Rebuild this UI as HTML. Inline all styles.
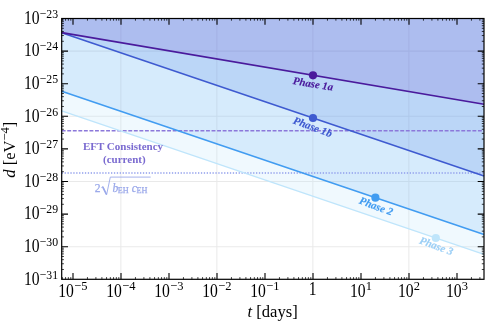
<!DOCTYPE html>
<html><head><meta charset="utf-8"><title>plot</title>
<style>html,body{margin:0;padding:0;background:#fff;overflow:hidden}svg{display:block;position:absolute;left:0;top:0;will-change:transform}</style></head>
<body>
<svg width="486" height="322" viewBox="0 0 486 322" font-family="Liberation Serif, serif">
<rect width="486" height="322" fill="#fff"/>
<path d="M120.85,18.5V279.3M216.85,18.5V279.3M312.85,18.5V279.3M408.85,18.5V279.3M61.7,246.70H484.0M61.7,181.50H484.0M61.7,116.30H484.0M61.7,51.10H484.0" stroke="#000" stroke-opacity="0.085" stroke-width="1.05" fill="none"/>
<polygon points="61.70,110.96 484.00,254.37 484.0,18.5 61.7,18.5" fill="#bfe5fb" fill-opacity="0.234"/>
<polygon points="61.70,91.17 484.00,234.58 484.0,18.5 61.7,18.5" fill="#419cf1" fill-opacity="0.15"/>
<polygon points="61.70,32.66 484.00,176.07 484.0,18.5 61.7,18.5" fill="#3468e3" fill-opacity="0.16"/>
<polygon points="61.70,32.63 484.00,104.33 484.0,18.5 61.7,18.5" fill="#5e2fc2" fill-opacity="0.15"/>
<path d="M61.7,130.7H484.0" stroke="#8c78da" stroke-width="1.55" stroke-dasharray="3.9 1.65" fill="none"/>
<path d="M61.7,173.0H484.0" stroke="#909eec" stroke-width="1.4" stroke-dasharray="1.3 1.6" fill="none"/>
<path d="M61.70,110.96L484.00,254.37" stroke="#bfe5fb" stroke-width="1.3" fill="none"/>
<path d="M61.70,91.17L484.00,234.58" stroke="#419cf1" stroke-width="1.55" fill="none"/>
<path d="M61.70,32.66L484.00,176.07" stroke="#3e5ad0" stroke-width="1.55" fill="none"/>
<path d="M61.70,32.63L484.00,104.33" stroke="#4a1a9c" stroke-width="1.55" fill="none"/>
<circle cx="435.8" cy="238.0" r="4.1" fill="#bfe5fb"/>
<circle cx="375.4" cy="197.7" r="4.1" fill="#419cf1"/>
<circle cx="313.0" cy="118.0" r="4.1" fill="#3e5ad0"/>
<circle cx="313.0" cy="75.3" r="4.1" fill="#4a1a9c"/>
<text transform="translate(312.5,87.4) rotate(9.5)" text-anchor="middle" font-size="10.8" font-weight="bold" font-style="italic" fill="#4a1a9c" stroke="#4a1a9c" stroke-width="0.15">Phase 1a</text>
<text transform="translate(311.5,130.3) rotate(20.5)" text-anchor="middle" font-size="10.8" font-weight="bold" font-style="italic" fill="#3e5ad0" stroke="#3e5ad0" stroke-width="0.15">Phase 1b</text>
<text transform="translate(374.9,209.5) rotate(20.5)" text-anchor="middle" font-size="10.8" font-weight="bold" font-style="italic" fill="#419cf1" stroke="#419cf1" stroke-width="0.15">Phase 2</text>
<text transform="translate(435.2,249.3) rotate(20)" text-anchor="middle" font-size="10.8" font-weight="bold" font-style="italic" fill="#9bcff6" stroke="#9bcff6" stroke-width="0.15">Phase 3</text>
<text x="123.0" y="149.8" text-anchor="middle" font-size="11" font-weight="bold" fill="#7a6ad0">EFT Consistency</text>
<text x="124.3" y="163.2" text-anchor="middle" font-size="11" font-weight="bold" fill="#7a6ad0">(current)</text>
<g fill="#9ba9ea" stroke="#9ba9ea" stroke-width="0.25"><text x="94.7" y="191.5" font-size="11.6">2</text><text x="112.4" y="191.5" font-size="11.6" font-style="italic">b</text><text x="117.7" y="192.9" font-size="8.2">EH</text><text x="131.7" y="191.5" font-size="11.6" font-style="italic">c</text><text x="136.5" y="192.9" font-size="8.2">EH</text><path d="M101.4,187.6L102.9,186.6L106.6,194.8L110.3,177.1H150.7" stroke-width="0.9" fill="none"/><path d="M102.7,186.8L106.4,194.4" stroke-width="1.6" fill="none"/></g>
<path d="M62.35,279.3v-2.2M62.35,18.5v2.2M65.56,279.3v-2.2M65.56,18.5v2.2M68.35,279.3v-2.2M68.35,18.5v2.2M70.80,279.3v-2.2M70.80,18.5v2.2M87.45,279.3v-2.2M87.45,18.5v2.2M95.90,279.3v-2.2M95.90,18.5v2.2M101.90,279.3v-2.2M101.90,18.5v2.2M106.55,279.3v-2.2M106.55,18.5v2.2M110.35,279.3v-2.2M110.35,18.5v2.2M113.56,279.3v-2.2M113.56,18.5v2.2M116.35,279.3v-2.2M116.35,18.5v2.2M118.80,279.3v-2.2M118.80,18.5v2.2M135.45,279.3v-2.2M135.45,18.5v2.2M143.90,279.3v-2.2M143.90,18.5v2.2M149.90,279.3v-2.2M149.90,18.5v2.2M154.55,279.3v-2.2M154.55,18.5v2.2M158.35,279.3v-2.2M158.35,18.5v2.2M161.56,279.3v-2.2M161.56,18.5v2.2M164.35,279.3v-2.2M164.35,18.5v2.2M166.80,279.3v-2.2M166.80,18.5v2.2M183.45,279.3v-2.2M183.45,18.5v2.2M191.90,279.3v-2.2M191.90,18.5v2.2M197.90,279.3v-2.2M197.90,18.5v2.2M202.55,279.3v-2.2M202.55,18.5v2.2M206.35,279.3v-2.2M206.35,18.5v2.2M209.56,279.3v-2.2M209.56,18.5v2.2M212.35,279.3v-2.2M212.35,18.5v2.2M214.80,279.3v-2.2M214.80,18.5v2.2M231.45,279.3v-2.2M231.45,18.5v2.2M239.90,279.3v-2.2M239.90,18.5v2.2M245.90,279.3v-2.2M245.90,18.5v2.2M250.55,279.3v-2.2M250.55,18.5v2.2M254.35,279.3v-2.2M254.35,18.5v2.2M257.56,279.3v-2.2M257.56,18.5v2.2M260.35,279.3v-2.2M260.35,18.5v2.2M262.80,279.3v-2.2M262.80,18.5v2.2M279.45,279.3v-2.2M279.45,18.5v2.2M287.90,279.3v-2.2M287.90,18.5v2.2M293.90,279.3v-2.2M293.90,18.5v2.2M298.55,279.3v-2.2M298.55,18.5v2.2M302.35,279.3v-2.2M302.35,18.5v2.2M305.56,279.3v-2.2M305.56,18.5v2.2M308.35,279.3v-2.2M308.35,18.5v2.2M310.80,279.3v-2.2M310.80,18.5v2.2M327.45,279.3v-2.2M327.45,18.5v2.2M335.90,279.3v-2.2M335.90,18.5v2.2M341.90,279.3v-2.2M341.90,18.5v2.2M346.55,279.3v-2.2M346.55,18.5v2.2M350.35,279.3v-2.2M350.35,18.5v2.2M353.56,279.3v-2.2M353.56,18.5v2.2M356.35,279.3v-2.2M356.35,18.5v2.2M358.80,279.3v-2.2M358.80,18.5v2.2M375.45,279.3v-2.2M375.45,18.5v2.2M383.90,279.3v-2.2M383.90,18.5v2.2M389.90,279.3v-2.2M389.90,18.5v2.2M394.55,279.3v-2.2M394.55,18.5v2.2M398.35,279.3v-2.2M398.35,18.5v2.2M401.56,279.3v-2.2M401.56,18.5v2.2M404.35,279.3v-2.2M404.35,18.5v2.2M406.80,279.3v-2.2M406.80,18.5v2.2M423.45,279.3v-2.2M423.45,18.5v2.2M431.90,279.3v-2.2M431.90,18.5v2.2M437.90,279.3v-2.2M437.90,18.5v2.2M442.55,279.3v-2.2M442.55,18.5v2.2M446.35,279.3v-2.2M446.35,18.5v2.2M449.56,279.3v-2.2M449.56,18.5v2.2M452.35,279.3v-2.2M452.35,18.5v2.2M454.80,279.3v-2.2M454.80,18.5v2.2M471.45,279.3v-2.2M471.45,18.5v2.2M479.90,279.3v-2.2M479.90,18.5v2.2M61.7,269.49h2.2M484.0,269.49h-2.2M61.7,263.75h2.2M484.0,263.75h-2.2M61.7,259.67h2.2M484.0,259.67h-2.2M61.7,256.51h2.2M484.0,256.51h-2.2M61.7,253.93h2.2M484.0,253.93h-2.2M61.7,251.75h2.2M484.0,251.75h-2.2M61.7,249.86h2.2M484.0,249.86h-2.2M61.7,248.19h2.2M484.0,248.19h-2.2M61.7,236.89h2.2M484.0,236.89h-2.2M61.7,231.15h2.2M484.0,231.15h-2.2M61.7,227.07h2.2M484.0,227.07h-2.2M61.7,223.91h2.2M484.0,223.91h-2.2M61.7,221.33h2.2M484.0,221.33h-2.2M61.7,219.15h2.2M484.0,219.15h-2.2M61.7,217.26h2.2M484.0,217.26h-2.2M61.7,215.59h2.2M484.0,215.59h-2.2M61.7,204.29h2.2M484.0,204.29h-2.2M61.7,198.55h2.2M484.0,198.55h-2.2M61.7,194.47h2.2M484.0,194.47h-2.2M61.7,191.31h2.2M484.0,191.31h-2.2M61.7,188.73h2.2M484.0,188.73h-2.2M61.7,186.55h2.2M484.0,186.55h-2.2M61.7,184.66h2.2M484.0,184.66h-2.2M61.7,182.99h2.2M484.0,182.99h-2.2M61.7,171.69h2.2M484.0,171.69h-2.2M61.7,165.95h2.2M484.0,165.95h-2.2M61.7,161.87h2.2M484.0,161.87h-2.2M61.7,158.71h2.2M484.0,158.71h-2.2M61.7,156.13h2.2M484.0,156.13h-2.2M61.7,153.95h2.2M484.0,153.95h-2.2M61.7,152.06h2.2M484.0,152.06h-2.2M61.7,150.39h2.2M484.0,150.39h-2.2M61.7,139.09h2.2M484.0,139.09h-2.2M61.7,133.35h2.2M484.0,133.35h-2.2M61.7,129.27h2.2M484.0,129.27h-2.2M61.7,126.11h2.2M484.0,126.11h-2.2M61.7,123.53h2.2M484.0,123.53h-2.2M61.7,121.35h2.2M484.0,121.35h-2.2M61.7,119.46h2.2M484.0,119.46h-2.2M61.7,117.79h2.2M484.0,117.79h-2.2M61.7,106.49h2.2M484.0,106.49h-2.2M61.7,100.75h2.2M484.0,100.75h-2.2M61.7,96.67h2.2M484.0,96.67h-2.2M61.7,93.51h2.2M484.0,93.51h-2.2M61.7,90.93h2.2M484.0,90.93h-2.2M61.7,88.75h2.2M484.0,88.75h-2.2M61.7,86.86h2.2M484.0,86.86h-2.2M61.7,85.19h2.2M484.0,85.19h-2.2M61.7,73.89h2.2M484.0,73.89h-2.2M61.7,68.15h2.2M484.0,68.15h-2.2M61.7,64.07h2.2M484.0,64.07h-2.2M61.7,60.91h2.2M484.0,60.91h-2.2M61.7,58.33h2.2M484.0,58.33h-2.2M61.7,56.15h2.2M484.0,56.15h-2.2M61.7,54.26h2.2M484.0,54.26h-2.2M61.7,52.59h2.2M484.0,52.59h-2.2M61.7,41.29h2.2M484.0,41.29h-2.2M61.7,35.55h2.2M484.0,35.55h-2.2M61.7,31.47h2.2M484.0,31.47h-2.2M61.7,28.31h2.2M484.0,28.31h-2.2M61.7,25.73h2.2M484.0,25.73h-2.2M61.7,23.55h2.2M484.0,23.55h-2.2M61.7,21.66h2.2M484.0,21.66h-2.2M61.7,19.99h2.2M484.0,19.99h-2.2" stroke="#000" stroke-width="0.75" fill="none"/>
<path d="M73.00,279.3v-6.3M73.00,18.5v6.3M121.00,279.3v-6.3M121.00,18.5v6.3M169.00,279.3v-6.3M169.00,18.5v6.3M217.00,279.3v-6.3M217.00,18.5v6.3M265.00,279.3v-6.3M265.00,18.5v6.3M313.00,279.3v-6.3M313.00,18.5v6.3M361.00,279.3v-6.3M361.00,18.5v6.3M409.00,279.3v-6.3M409.00,18.5v6.3M457.00,279.3v-6.3M457.00,18.5v6.3M61.7,246.70h6.3M484.0,246.70h-6.3M61.7,214.10h6.3M484.0,214.10h-6.3M61.7,181.50h6.3M484.0,181.50h-6.3M61.7,148.90h6.3M484.0,148.90h-6.3M61.7,116.30h6.3M484.0,116.30h-6.3M61.7,83.70h6.3M484.0,83.70h-6.3M61.7,51.10h6.3M484.0,51.10h-6.3" stroke="#000" stroke-width="1.1" fill="none"/>
<rect x="61.7" y="18.5" width="422.3" height="260.8" fill="none" stroke="#000" stroke-width="1.2"/>
<text transform="translate(23.90,23.70) scale(0.92,1.05)" font-size="17">10</text><text transform="translate(39.60,17.70) scale(1,1.06)" font-size="11.8">&#8722;23</text>
<text transform="translate(23.90,56.30) scale(0.92,1.05)" font-size="17">10</text><text transform="translate(39.60,50.30) scale(1,1.06)" font-size="11.8">&#8722;24</text>
<text transform="translate(23.90,88.90) scale(0.92,1.05)" font-size="17">10</text><text transform="translate(39.60,82.90) scale(1,1.06)" font-size="11.8">&#8722;25</text>
<text transform="translate(23.90,121.50) scale(0.92,1.05)" font-size="17">10</text><text transform="translate(39.60,115.50) scale(1,1.06)" font-size="11.8">&#8722;26</text>
<text transform="translate(23.90,154.10) scale(0.92,1.05)" font-size="17">10</text><text transform="translate(39.60,148.10) scale(1,1.06)" font-size="11.8">&#8722;27</text>
<text transform="translate(23.90,186.70) scale(0.92,1.05)" font-size="17">10</text><text transform="translate(39.60,180.70) scale(1,1.06)" font-size="11.8">&#8722;28</text>
<text transform="translate(23.90,219.30) scale(0.92,1.05)" font-size="17">10</text><text transform="translate(39.60,213.30) scale(1,1.06)" font-size="11.8">&#8722;29</text>
<text transform="translate(23.90,251.90) scale(0.92,1.05)" font-size="17">10</text><text transform="translate(39.60,245.90) scale(1,1.06)" font-size="11.8">&#8722;30</text>
<text transform="translate(23.90,284.50) scale(0.92,1.05)" font-size="17">10</text><text transform="translate(39.60,278.50) scale(1,1.06)" font-size="11.8">&#8722;31</text>
<text transform="translate(58.20,296.60) scale(0.92,1.05)" font-size="17">10</text><text transform="translate(74.30,290.20) scale(1,1.06)" font-size="12.5">&#8722;5</text>
<text transform="translate(106.20,296.60) scale(0.92,1.05)" font-size="17">10</text><text transform="translate(122.30,290.20) scale(1,1.06)" font-size="12.5">&#8722;4</text>
<text transform="translate(154.20,296.60) scale(0.92,1.05)" font-size="17">10</text><text transform="translate(170.30,290.20) scale(1,1.06)" font-size="12.5">&#8722;3</text>
<text transform="translate(202.20,296.60) scale(0.92,1.05)" font-size="17">10</text><text transform="translate(218.30,290.20) scale(1,1.06)" font-size="12.5">&#8722;2</text>
<text transform="translate(250.20,296.60) scale(0.92,1.05)" font-size="17">10</text><text transform="translate(266.30,290.20) scale(1,1.06)" font-size="12.5">&#8722;1</text>
<text transform="translate(312.60,295.1) scale(0.92,1.05)" text-anchor="middle" font-size="17">1</text>
<text transform="translate(350.00,296.60) scale(0.92,1.05)" font-size="17">10</text><text transform="translate(365.80,290.20) scale(1,1.06)" font-size="12.5">1</text>
<text transform="translate(398.00,296.60) scale(0.92,1.05)" font-size="17">10</text><text transform="translate(413.80,290.20) scale(1,1.06)" font-size="12.5">2</text>
<text transform="translate(446.00,296.60) scale(0.92,1.05)" font-size="17">10</text><text transform="translate(461.80,290.20) scale(1,1.06)" font-size="12.5">3</text>
<text x="272.6" y="317.0" text-anchor="middle" font-size="16.6"><tspan font-style="italic">t</tspan> [days]</text>
<text transform="translate(14.8,149.7) rotate(-90)" text-anchor="middle" font-size="16.6"><tspan font-style="italic">d</tspan> [eV<tspan font-size="12.5" dy="-6.0">&#8722;4</tspan><tspan dy="6.0">]</tspan></text>
</svg>
</body></html>
